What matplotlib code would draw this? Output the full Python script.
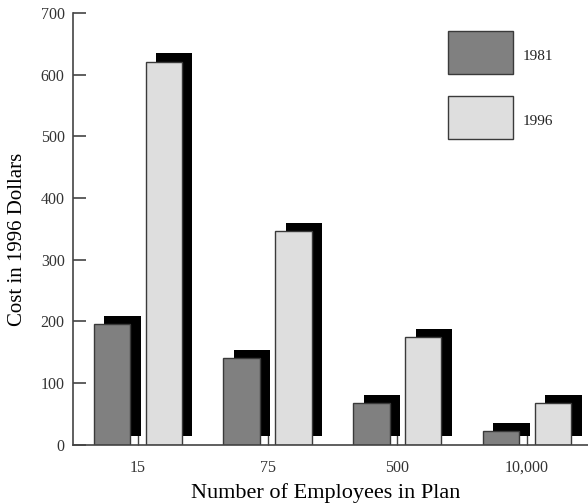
import matplotlib
matplotlib.use("Agg")
import matplotlib.pyplot as plt
import matplotlib.patheffects as pe
from matplotlib.patches import Rectangle
import numpy as np

# Plan sizes and cost per employee (1996 dollars)
plan_sizes = ["15", "75", "500", "10,000"]
series_names = ["1981", "1996"]
cost_1981 = [195, 140, 67, 22]
cost_1996 = [621, 346, 174, 67]
y_ticks = [0, 100, 200, 300, 400, 500, 600, 700]

plt.rcParams["font.family"] = ["Liberation Serif", "DejaVu Serif"]

fig = plt.figure(figsize=(5.88, 5.04), dpi=100)
ax = fig.add_axes([0.1241, 0.1177, 0.8759, 0.8565])

x = np.arange(len(plan_sizes))
width = 0.28
fills = ["#808080", "#dedede"]
shadow = [pe.SimplePatchShadow(offset=(7.6, 6.2), shadow_rgbFace="black", alpha=1.0),
          pe.Normal()]

for vals, off, fc in [(cost_1981, -0.2, fills[0]), (cost_1996, 0.2, fills[1])]:
    bars = ax.bar(x + off, vals, width, color=fc, edgecolor="#3a3a3a",
                  linewidth=1.0, zorder=2)
    for b in bars:
        b.set_path_effects(shadow)

ax.set_xlim(-0.5, 3.47)
ax.set_ylim(0, 700)
ax.set_xticks(x)
ax.set_xticklabels(plan_sizes)
ax.set_yticks(y_ticks)
ax.set_axisbelow(True)

for s in ["top", "right"]:
    ax.spines[s].set_visible(False)
for s in ["left", "bottom"]:
    ax.spines[s].set_color("#444444")
    ax.spines[s].set_linewidth(1.2)

ax.tick_params(axis="y", direction="in", length=9.4, width=1.2, color="#444444",
               labelsize=11.5, pad=6, labelcolor="#333333")
ax.tick_params(axis="x", direction="in", length=9.4, width=1.0, color="#444444",
               labelsize=11.5, pad=11, labelcolor="#333333")

ax.set_ylabel("Cost in 1996 Dollars", fontsize=15)
ax.set_xlabel("Number of Employees in Plan", fontsize=16)
ax.yaxis.set_label_coords(-0.090, 0.475)
ax.xaxis.set_label_coords(0.490, -0.088)

# Legend swatches
for name, fc, y0, ty in [(series_names[0], fills[0], 0.8587, 0.8988),
                         (series_names[1], fills[1], 0.7088, 0.7482)]:
    ax.add_patch(Rectangle((0.7287, y0), 0.1262, 0.0996, transform=ax.transAxes,
                           facecolor=fc, edgecolor="#3a3a3a", linewidth=1.0,
                           clip_on=False))
    ax.text(0.8732, ty, name, transform=ax.transAxes, fontsize=11,
            va="center", ha="left", color="#222222")

fig.savefig("out.png", dpi=100)
